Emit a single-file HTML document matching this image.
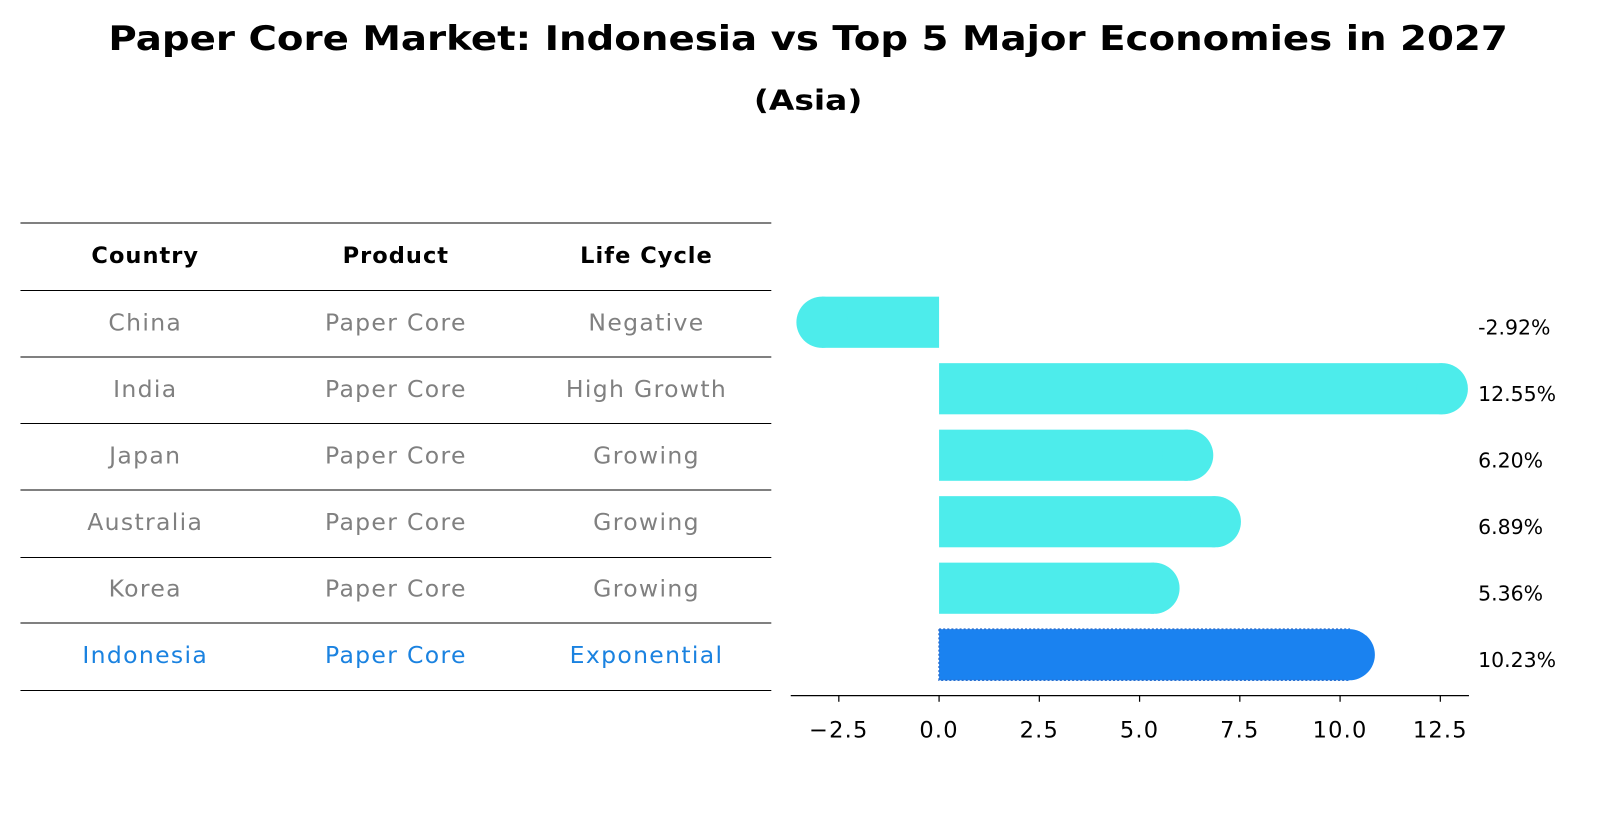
<!DOCTYPE html>
<html><head><meta charset="utf-8"><style>
html,body{margin:0;padding:0;background:#fff;}
svg{display:block;font-family:"DejaVu Sans","Liberation Sans",sans-serif;}
</style></head><body>
<svg id="chart" width="1604" height="823" viewBox="0 0 1568 804.5" xmlns="http://www.w3.org/2000/svg">
<text x="790" y="49" text-anchor="middle" font-size="33" font-weight="bold" textLength="1368" lengthAdjust="spacingAndGlyphs">Paper Core Market: Indonesia vs Top 5 Major Economies in 2027</text>
<text x="790" y="107" text-anchor="middle" font-size="27" font-weight="bold" textLength="106" lengthAdjust="spacingAndGlyphs">(Asia)</text>
<g id="table"></g>
<g id="bars"></g>
</svg>
<script>
const countries = ["China","India","Japan","Australia","Korea","Indonesia"];
const products = ["Paper Core","Paper Core","Paper Core","Paper Core","Paper Core","Paper Core"];
const lifeCycles = ["Negative","High Growth","Growing","Growing","Growing","Exponential"];
const growth = [-2.92,12.55,6.20,6.89,5.36,10.23];
const valueLabels = ["-2.92%","12.55%","6.20%","6.89%","5.36%","10.23%"];
const ticks = [-2.5,0,2.5,5,7.5,10,12.5];
const tickLabels = ["\u22122.5","0.0","2.5","5.0","7.5","10.0","12.5"];

const NS="http://www.w3.org/2000/svg";
function mk(tag,attrs,parent){const e=document.createElementNS(NS,tag);for(const k in attrs)e.setAttribute(k,attrs[k]);parent.appendChild(e);return e;}
const x = v => 918 + v*39.2;
const yc = i => 315 + i*65;
const tbl=document.getElementById('table');
const bars=document.getElementById('bars');

const hdr=["Country","Product","Life Cycle"], cx=[142,387,632];
hdr.forEach((h,j)=>{const t=mk('text',{x:cx[j],y:257,'text-anchor':'middle','font-size':22,'font-weight':'bold','letter-spacing':'1'},tbl);t.textContent=h;

});
[218,284,349,414,479,545,609,675].forEach((ly)=>{const l=mk('line',{x1:20,x2:754,y1:ly,y2:ly,stroke:'#000','stroke-width':1},tbl);

});
countries.forEach((c,i)=>{
  const col = i===countries.length-1?'#1a82e0':'#808080';
  [c,products[i],lifeCycles[i]].forEach((s,j)=>{
    const t=mk('text',{x:cx[j],y:yc(i)+8,'text-anchor':'middle','font-size':23,'letter-spacing':'1.3',fill:col},tbl);t.textContent=s;
    
    
  });
});

growth.forEach((v,i)=>{
  const last=i===growth.length-1;
  const fill= last?'#1a82f0':'#4deceb';
  const g=mk('g',{},bars);
  
  
  const x0=Math.min(x(0),x(v)), w=Math.abs(x(v)-x(0));
  const y0=yc(i)-25;
  mk('rect',{x:x0,y:y0,width:w,height:50,fill:fill,stroke:last?'#2a6fd0':'none','stroke-dasharray':last?'2 2':'none','stroke-width':1.5},g);
  mk('circle',{cx:x(v),cy:yc(i),r:25,fill:fill},g);
  const t=mk('text',{x:1445,y:yc(i)+12,'font-size':20},bars);t.textContent=valueLabels[i];
  
  
});
const ax=mk('line',{x1:773,x2:1436,y1:680,y2:680,stroke:'#000','stroke-width':1.3},bars);


ticks.forEach((tv,k)=>{
  const tk=mk('line',{x1:x(tv),x2:x(tv),y1:680,y2:686,stroke:'#000','stroke-width':1.2},bars);
  
  
  const t=mk('text',{x:x(tv),y:721,'text-anchor':'middle','font-size':22,'letter-spacing':'1.2'},bars);t.textContent=tickLabels[k];
  
  
});
</script>
</body></html>
